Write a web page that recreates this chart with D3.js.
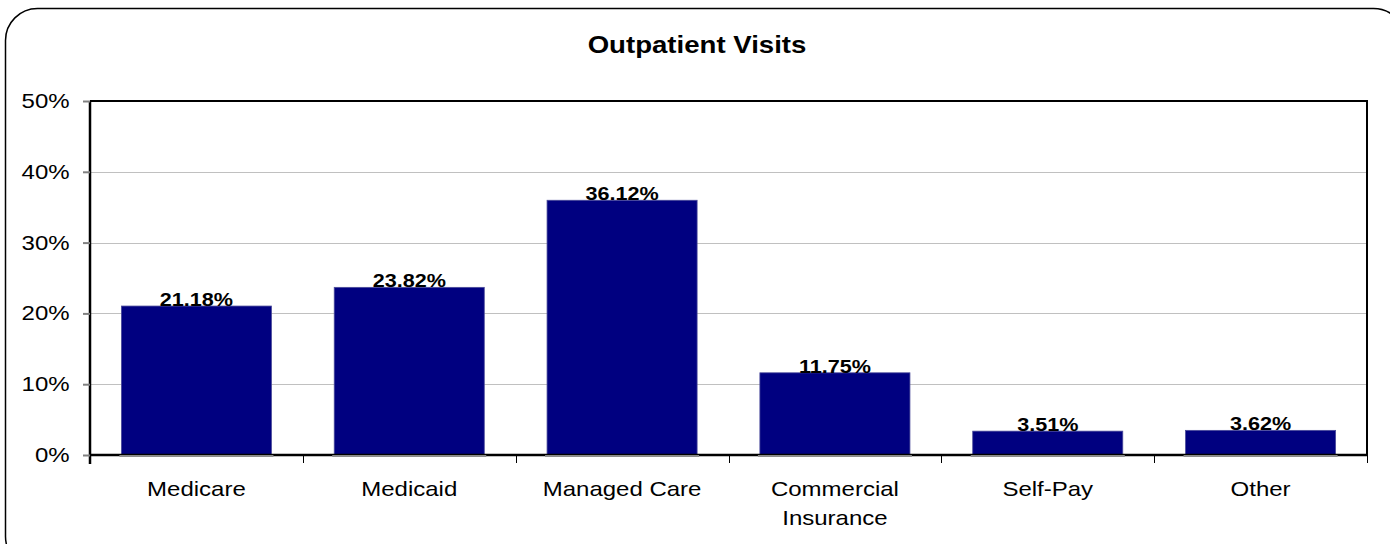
<!DOCTYPE html>
<meta charset="utf-8">
<style>
body { margin: 0; background: #fff; }
text { font-family: "Liberation Sans", Arial, sans-serif; }
.grid line { stroke: #c0c0c0; stroke-width: 1px; }
</style>
<body>
<script src="https://d3js.org/d3.v7.min.js"></script>
<script>
// chart data
var categories = ["Medicare", "Medicaid", "Managed Care", "Commercial Insurance", "Self-Pay", "Other"];
var values = [21.18, 23.82, 36.12, 11.75, 3.51, 3.62];
var yTicks = [0, 10, 20, 30, 40, 50];

var W = 1390, H = 544;
var plot = {left: 90, top: 101, right: 1367, bottom: 455};
var sx = 1.2; // text in the original is a bit wider than tall

var svg = d3.select("body").append("svg")
    .attr("width", W)
    .attr("height", H);

// outer rounded frame
svg.append("rect")
    .attr("x", 5.5).attr("y", 8.5)
    .attr("width", 1400).attr("height", 560)
    .attr("rx", 32).attr("ry", 32)
    .attr("fill", "#fff")
    .attr("stroke", "#000")
    .attr("stroke-width", 1.5);

// title
svg.append("text")
    .attr("transform", "translate(697,53) scale(" + sx + ",1)")
    .attr("text-anchor", "middle")
    .style("font-size", "23px")
    .style("font-weight", "bold")
    .text("Outpatient Visits");

var x = d3.scaleBand()
    .domain(categories)
    .range([plot.left, plot.right])
    .paddingInner(0.295)
    .paddingOuter(0.1475);

var y = d3.scaleLinear()
    .domain([0, 50])
    .range([plot.bottom, plot.top]);

// gridlines
svg.append("g")
    .attr("class", "grid")
    .selectAll("line")
    .data(yTicks.filter(function(d) { return d > 0 && d < 50; }))
    .enter().append("line")
    .attr("x1", plot.left).attr("x2", plot.right)
    .attr("y1", function(d) { return Math.round(y(d)) + 0.5; })
    .attr("y2", function(d) { return Math.round(y(d)) + 0.5; });

// plot frame (top, right)
svg.append("path")
    .attr("d", "M" + plot.left + "," + plot.top + "H" + plot.right + "V" + plot.bottom)
    .attr("fill", "none")
    .attr("stroke", "#000")
    .attr("stroke-width", 2);

// bars
svg.selectAll(".bar")
    .data(values)
    .enter().append("rect")
    .attr("class", "bar")
    .attr("x", function(d, i) { return x(categories[i]); })
    .attr("width", x.bandwidth())
    .attr("y", function(d) { return y(d) + 1; })
    .attr("height", function(d) { return plot.bottom - y(d) - 1; })
    .attr("fill", "#000080")
    .attr("stroke", "#4a4a9a")
    .attr("stroke-width", 0.8);

// y axis
var yAxis = svg.append("g")
    .attr("transform", "translate(" + plot.left + ",0)")
    .call(d3.axisLeft(y).tickValues(yTicks).tickSize(7).tickPadding(10)
        .tickFormat(function(d) { return d + "%"; }));
yAxis.select(".domain").attr("stroke", "#000").attr("stroke-width", 2.5)
    .attr("d", "M0," + plot.top + "V" + (plot.bottom + 9));
yAxis.selectAll(".tick line").attr("stroke", "#808080").attr("stroke-width", 2);
yAxis.selectAll(".tick text")
    .style("font-size", "20px")
    .attr("fill", "#000")
    .attr("font-family", null)
    .attr("transform", "scale(" + sx + ",1)");

// x axis
var xAxis = svg.append("g")
    .attr("transform", "translate(0," + plot.bottom + ")")
    .call(d3.axisBottom(x).tickSize(0).tickPadding(27));
xAxis.select(".domain").attr("stroke", "#000").attr("stroke-width", 2.5)
    .attr("d", "M" + plot.left + ",0H" + plot.right);
xAxis.selectAll(".tick text")
    .style("font-size", "20px")
    .attr("fill", "#000")
    .attr("font-family", null)
    .attr("transform", "scale(" + sx + ",1)")
    .each(function(d) {
        var t = d3.select(this);
        var words = d.split(" ");
        if (words.length > 1 && d.length > 14) {
            t.text(null);
            words.forEach(function(w, i) {
                t.append("tspan").attr("x", 0).attr("dy", i === 0 ? "0.71em" : "1.45em").text(w);
            });
        }
    });

// grey baseline under bars
svg.selectAll(".base")
    .data(categories)
    .enter().append("line")
    .attr("x1", function(d) { return x(d) - 2; })
    .attr("x2", function(d) { return x(d) + x.bandwidth() + 2; })
    .attr("y1", plot.bottom + 1).attr("y2", plot.bottom + 1)
    .attr("stroke", "#8c8c8c").attr("stroke-width", 2);

// category boundary ticks
var bounds = d3.range(categories.length + 1).map(function(i) {
    return plot.left + i * x.step();
});
svg.selectAll(".xtick")
    .data(bounds)
    .enter().append("line")
    .attr("x1", function(d) { return Math.round(d) + 0.5; })
    .attr("x2", function(d) { return Math.round(d) + 0.5; })
    .attr("y1", plot.bottom).attr("y2", plot.bottom + 8)
    .attr("stroke", "#000").attr("stroke-width", 1);

// value labels
svg.selectAll(".label")
    .data(values)
    .enter().append("text")
    .attr("transform", function(d, i) {
        return "translate(" + (x(categories[i]) + x.bandwidth() / 2) + "," + (y(d) + 1) + ") scale(" + sx + ",1)";
    })
    .attr("text-anchor", "middle")
    .style("font-size", "18px")
    .style("font-weight", "bold")
    .text(function(d) { return d.toFixed(2) + "%"; });
</script>
</body>
